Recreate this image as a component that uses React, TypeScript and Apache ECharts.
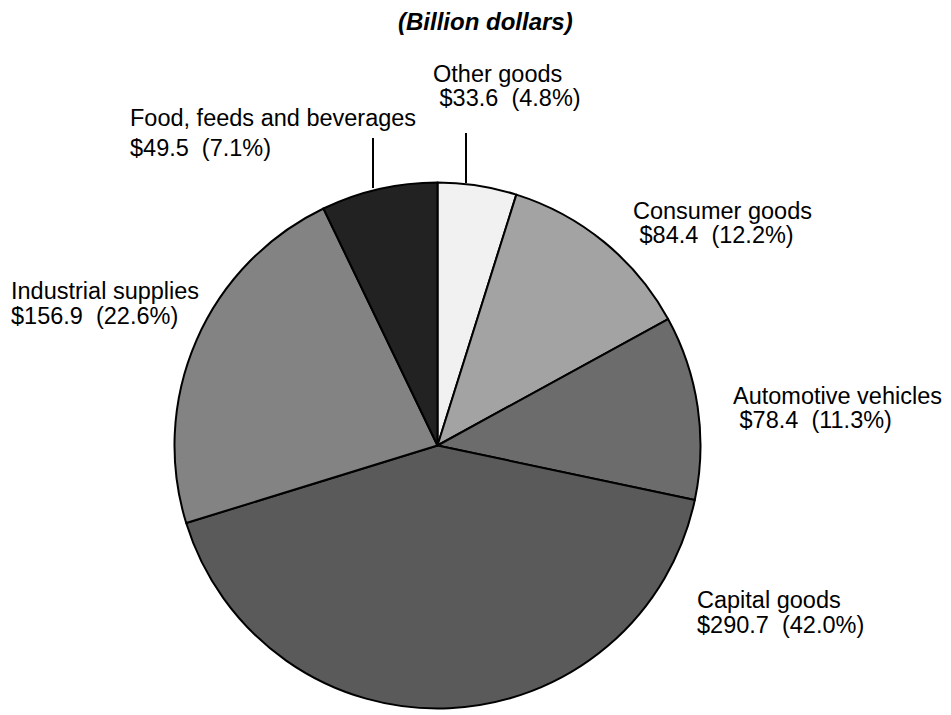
import React, { useEffect, useRef } from 'react';
import * as echarts from 'echarts';

// ---- Data ----
const categories = [
  'Other goods',
  'Consumer goods',
  'Automotive vehicles',
  'Capital goods',
  'Industrial supplies',
  'Food, feeds and beverages',
];
const values = [33.6, 84.4, 78.4, 290.7, 156.9, 49.5];
const shares = [4.8, 12.2, 11.3, 42.0, 22.6, 7.1];

// ---- Styles / layout ----
const sliceColors = ['#f1f1f1', '#a3a3a3', '#6c6c6c', '#5a5a5a', '#838383', '#222222'];
// label block: left x, top y, line height, indent second line
const labelBoxes: [number, number, number, boolean][] = [
  [433, 61.5, 24, true],
  [633, 199, 24, true],
  [733, 383.5, 24, true],
  [697, 587.5, 25, false],
  [11, 278.5, 25, false],
  [130, 102.5, 30, false],
];
const leaderLines: Record<number, number[][]> = {
  0: [[466, 183], [466, 158], [466, 133]],
  5: [[373, 188], [373, 163], [373, 138]],
};

const FONT = '"Liberation Sans", Arial, Helvetica, sans-serif';

export default function App() {
  const ref = useRef<HTMLDivElement>(null);

  useEffect(() => {
    document.body.style.margin = '0';
    const chart = echarts.init(ref.current!, null, { renderer: 'svg' });

    const data = categories.map((name, i) => ({
      name,
      value: values[i],
      itemStyle: { color: sliceColors[i] },
      label: { lineHeight: labelBoxes[i][2] },
      labelLine: { show: !!leaderLines[i] },
    }));

    chart.setOption({
      animation: false,
      backgroundColor: '#ffffff',
      title: {
        text: '(Billion dollars)',
        left: 398,
        top: 9,
        padding: 0,
        textStyle: {
          fontFamily: FONT,
          fontSize: 24,
          fontWeight: 'bold',
          fontStyle: 'italic',
          color: '#000',
        },
      },
      series: [
        {
          type: 'pie',
          center: [437.5, 445.5],
          radius: 263,
          startAngle: 90,
          clockwise: true,
          avoidLabelOverlap: false,
          silent: true,
          itemStyle: { borderColor: '#000', borderWidth: 2 },
          label: {
            show: true,
            position: 'outside',
            fontFamily: FONT,
            fontSize: 23.5,
            color: '#000',
            formatter: (p: any) => {
              const i = p.dataIndex;
              const indent = labelBoxes[i][3] ? ' ' : '';
              return `${categories[i]}\n${indent}$${values[i].toFixed(1)}  (${shares[i].toFixed(1)}%)`;
            },
          },
          labelLine: {
            show: false,
            lineStyle: { color: '#000', width: 2 },
          },
          labelLayout: (params: any) => {
            const i = params.dataIndex;
            const b = labelBoxes[i];
            const res: any = { x: b[0], y: b[1], align: 'left', verticalAlign: 'top' };
            if (leaderLines[i]) res.labelLinePoints = leaderLines[i];
            return res;
          },
          data,
        },
      ],
    });

    return () => chart.dispose();
  }, []);

  return <div ref={ref} style={{ width: 951, height: 715 }} />;
}
